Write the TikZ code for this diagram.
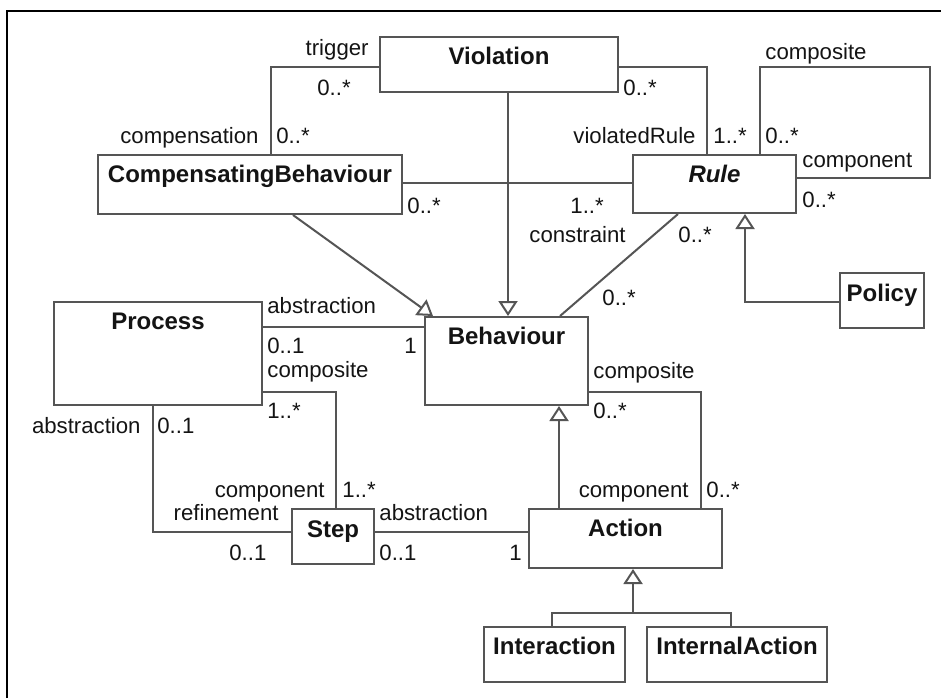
\documentclass[tikz,border=0pt]{standalone}
\usepackage{fontspec}
\setmainfont{Liberation Sans}
\usetikzlibrary{arrows.meta,fit}
\definecolor{linec}{RGB}{85,85,85}
\definecolor{textc}{RGB}{20,20,20}
\begin{document}
\begin{tikzpicture}[x=0.5pt,y=-0.5pt,
  cls/.style={draw=linec, line width=1pt, fill=white, inner sep=0pt},
  cname/.style={font=\fontsize{12}{14}\selectfont\bfseries, inner sep=0pt, anchor=base, text=textc},
  lab/.style={font=\fontsize{11.1}{13}\selectfont, inner sep=0pt, text=textc},
  lw/.style={lab, anchor=base west},
  le/.style={lab, anchor=base east},
  assoc/.style={draw=linec, line width=1pt},
  gen/.style={draw=linec, line width=1pt, -{Triangle[open, length=7.5pt, width=9.5pt, fill=white]}}]
\useasboundingbox (0,0) rectangle (941,698);
\fill[white] (0,0) rectangle (941,698);
% frame
\draw[black, line width=1pt] (6.7,698) |- (941,10.7);

% classes
\node[cls, fit={(380,37) (618,92)}] (vio) {};
\node[cls, fit={(98,155) (402,214)}] (cb) {};
\node[cls, fit={(633,155) (796,213)}] (rule) {};
\node[cls, fit={(840,273) (924,328)}] (pol) {};
\node[cls, fit={(54,302) (262,405)}] (proc) {};
\node[cls, fit={(425,317) (588,405)}] (beh) {};
\node[cls, fit={(292,509) (374,564)}] (step) {};
\node[cls, fit={(529,509) (722,568)}] (act) {};
\node[cls, fit={(484,627) (625,682)}] (inter) {};
\node[cls, fit={(647,627) (827,682)}] (inta) {};

\node[cname] (vioN) at ([yshift=-14pt]vio.north) {Violation};
\node[cname] (cbN) at ([yshift=-14pt]cb.north) {CompensatingBehaviour};
\node[cname] (ruleN) at ([yshift=-14pt]rule.north) {\itshape Rule};
\node[cname] (polN) at ([yshift=-14.5pt]pol.north) {Policy};
\node[cname] (procN) at ([yshift=-14pt]proc.north) {Process};
\node[cname] (behN) at ([yshift=-14pt]beh.north) {Behaviour};
\node[cname] (stepN) at ([yshift=-14.5pt]step.north) {Step};
\node[cname] (actN) at ([yshift=-14pt]act.north) {Action};
\node[cname] (interN) at ([yshift=-14pt]inter.north) {Interaction};
\node[cname] (intaN) at ([yshift=-14pt]inta.north) {InternalAction};

% connectors
\coordinate (loopR) at (930,67);
\coordinate (junc) at (633,613);
\draw[assoc] (vio.west |- 0,67) -| (cb.north -| 271,0);
\draw[assoc] (vio.east |- 0,67) -| (rule.north -| 707,0);
\draw[assoc] (rule.north -| 760,0) |- (loopR) |- (rule.east |- 0,178);
\draw[assoc] (cb.east |- 0,183) -- (rule.west |- 0,183);
\draw[gen] (cb.south -| 293,0) -- (beh.north -| 433,0);
\draw[gen] (vio.south -| 508,0) -- (beh.north -| 508,0);
\draw[gen] (pol.west |- 0,302) -| (rule.south -| 745,0);
\draw[assoc] (rule.south -| 678,0) -- (beh.north -| 560,0);
\draw[assoc] (proc.east |- 0,327) -- (beh.west |- 0,327);
\draw[assoc] (proc.east |- 0,392) -| (step.north -| 336,0);
\draw[assoc] (proc.south -| 153,0) |- (step.west |- 0,532);
\draw[assoc] (step.east |- 0,532) -- (act.west |- 0,532);
\draw[gen] (act.north -| 559,0) -- (beh.south -| 559,0);
\draw[assoc] (beh.east |- 0,392) -| (act.north -| 701,0);
\draw[assoc] (inter.north -| 552,0) |- (junc) -| (inta.north -| 731,0);
\draw[gen] (junc) -- (act.south -| 633,0);

% labels
\node[le] (l1) at (369,55) {trigger};
\node[lw] (l2) at (317,95) {0..*};
\node[le] (l3) at (259,143) {compensation};
\node[lw] (l4) at (276,143) {0..*};
\node[lw] (l5) at (407,213) {0..*};
\node[lw] (l6) at (623,95) {0..*};
\node[le] (l7) at (696,143) {violatedRule};
\node[lw] (l8) at (713,143) {1..*};
\node[lw] (l9) at (765,59) {composite};
\node[lw] (l10) at (765,143) {0..*};
\node[lw] (l11) at (802,167) {component};
\node[lw] (l12) at (802,207) {0..*};
\node[lw] (l13) at (570,213) {1..*};
\node[lw] (l14) at (529,242) {constraint};
\node[lw] (l15) at (678,242) {0..*};
\node[lw] (l16) at (602,305) {0..*};
\node[lw] (l17) at (267,313) {abstraction};
\node[lw] (l18) at (267,353) {0..1};
\node[le] (l19) at (417,353) {1};
\node[lw] (l20) at (267,377) {composite};
\node[lw] (l21) at (267,418) {1..*};
\node[le] (l22) at (141,433) {abstraction};
\node[lw] (l23) at (157,433) {0..1};
\node[le] (l24) at (325,497) {component};
\node[lw] (l25) at (342,497) {1..*};
\node[le] (l26) at (279,520) {refinement};
\node[lw] (l27) at (229,560) {0..1};
\node[lw] (l28) at (379,520) {abstraction};
\node[lw] (l29) at (379,560) {0..1};
\node[le] (l30) at (522,560) {1};
\node[lw] (l31) at (593,378) {composite};
\node[lw] (l32) at (593,418) {0..*};
\node[le] (l33) at (689,497) {component};
\node[lw] (l34) at (706,497) {0..*};
\end{tikzpicture}
\end{document}
